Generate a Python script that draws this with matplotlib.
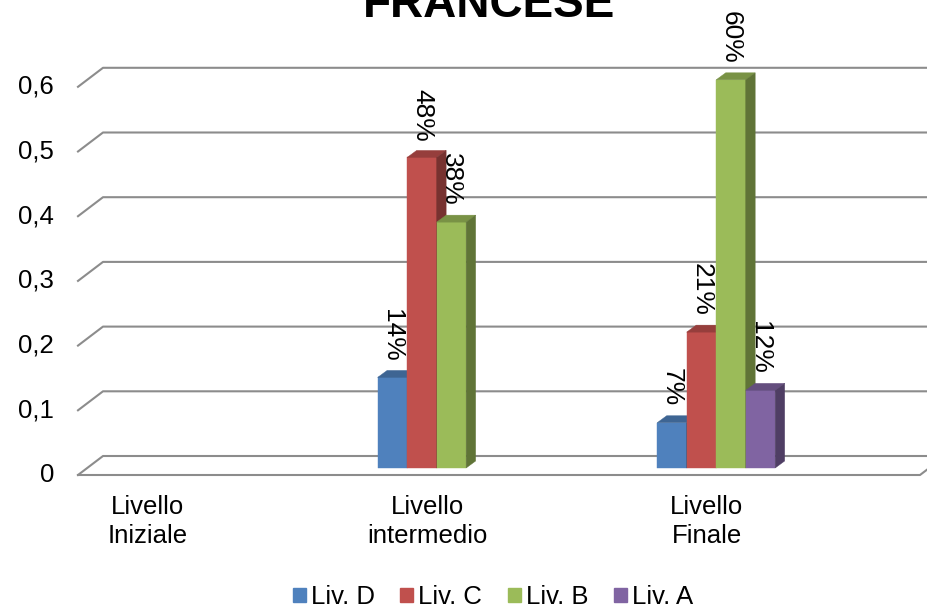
import matplotlib.pyplot as plt
from matplotlib.patches import Polygon, Rectangle, Patch
import matplotlib.colors as mcolors

plt.rcParams['font.family'] = ['Liberation Sans', 'DejaVu Sans']

# dati del grafico
categorie = ["Livello\nIniziale", "Livello\nintermedio", "Livello\nFinale"]
serie = ["Liv. D", "Liv. C", "Liv. B", "Liv. A"]
liv_d = [0, 0.14, 0.07]
liv_c = [0, 0.48, 0.21]
liv_b = [0, 0.38, 0.60]
liv_a = [0, 0, 0.12]
valori = [liv_d, liv_c, liv_b, liv_a]
colori = ["#4F81BD", "#C0504D", "#9BBB59", "#8064A2"]
tacche = [0, 0.1, 0.2, 0.3, 0.4, 0.5, 0.6]
etichette_y = ["0", "0,1", "0,2", "0,3", "0,4", "0,5", "0,6"]


def scurisci(c, f):
    r, g, b = mcolors.to_rgb(c)
    return (r * f, g * f, b * f)


fig = plt.figure(figsize=(9.27, 6.08), dpi=100)
ax = fig.add_axes([78 / 927, 133 / 608, 842 / 927, 388.2 / 608])
xmin, xmax = -0.25, 2.762
ax.set_xlim(xmin, xmax)
ax.set_ylim(0, 0.6)
ax.axis('off')

# pixel -> unita' dati
p0 = ax.transData.transform((0, 0))
p1 = ax.transData.transform((1, 1))
sx, sy = p1 - p0


def px(dx, dy):
    return dx / sx, dy / sy


grigio = '#8C8C8C'
wx, wy = px(25, 19)
for t in tacche:
    ax.plot([xmin, xmin + wx, xmax + wx], [t, t + wy, t + wy], color=grigio,
            lw=1.5, clip_on=False, zorder=1)
ax.plot([xmin, xmax, xmax + wx], [0, 0, wy], color=grigio, lw=1.5,
        clip_on=False, zorder=1)

# etichette asse y
ox, _ = px(24, 0)
for t, lab in zip(tacche, etichette_y):
    ax.text(xmin - ox, t, lab, ha='right', va='center', fontsize=18.5)

# etichette categorie
_, oy = px(0, 20)
for i, cat in enumerate(categorie):
    ax.text(i, -oy, cat, ha='center', va='top', fontsize=18.5,
            linespacing=1.25, multialignment='center')

# barre 3D
w = 0.1055
bx, by = px(9.2, 7)
dx, dy = px(9.5, 7)
_, ly = px(0, 9)
for i in range(len(categorie)):
    for j, (vals, col) in enumerate(zip(valori, colori)):
        v = vals[i]
        if v <= 0:
            continue
        z = 3 + j * 0.1
        x0 = i + (j - 2) * w + bx
        y0 = by
        ax.add_patch(Rectangle((x0, y0), w, v, fc=col, ec=col, lw=0.3,
                               zorder=z, clip_on=False))
        top = [(x0, y0 + v), (x0 + w, y0 + v), (x0 + w + dx, y0 + v + dy),
               (x0 + dx, y0 + v + dy)]
        ax.add_patch(Polygon(top, fc=scurisci(col, 0.78), ec=scurisci(col, 0.78),
                             lw=0.3, zorder=z, clip_on=False))
        side = [(x0 + w, y0), (x0 + w + dx, y0 + dy), (x0 + w + dx, y0 + v + dy),
                (x0 + w, y0 + v)]
        ax.add_patch(Polygon(side, fc=scurisci(col, 0.62), ec=scurisci(col, 0.62),
                             lw=0.3, zorder=z, clip_on=False))
        ax.text(x0 + w / 2, y0 + v + dy + ly, f"{round(v * 100)}%", rotation=-90,
                ha='center', va='bottom', fontsize=19, zorder=10)

fig.text(489 / 927, 591 / 608, "FRANCESE", ha='center', va='baseline',
         fontsize=33, fontweight='bold')

maniglie = [Patch(facecolor=c, edgecolor=c) for c in colori]
fig.legend(maniglie, serie, loc='center', bbox_to_anchor=(493 / 927, 11 / 608),
           ncol=4, frameon=False, fontsize=18.5, handlelength=0.5,
           handleheight=0.5, handletextpad=0.2, columnspacing=1.0,
           borderpad=0, borderaxespad=0)

fig.savefig('out.png', dpi=100)
